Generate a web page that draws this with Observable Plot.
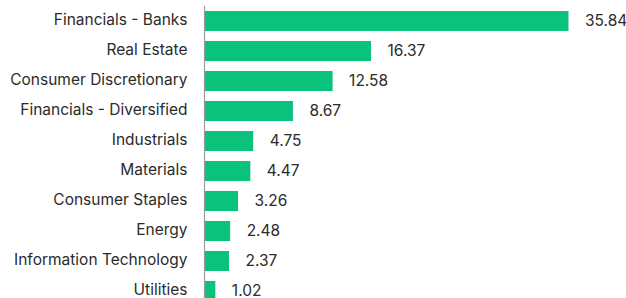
<!DOCTYPE html>
<html><head><meta charset="utf-8">
<script src="https://cdn.jsdelivr.net/npm/d3@7"></script>
<script src="https://cdn.jsdelivr.net/npm/@observablehq/plot@0.6"></script>
<style>
html,body{margin:0;padding:0;background:#fff;overflow:hidden;height:298px;}
</style>
</head><body><div id="chart"></div>
<script>
const categories = ["Financials - Banks","Real Estate","Consumer Discretionary","Financials - Diversified","Industrials","Materials","Consumer Staples","Energy","Information Technology","Utilities"];
const values = [35.84,16.37,12.58,8.67,4.75,4.47,3.26,2.48,2.37,1.02];
const labels = ["35.84","16.37","12.58","8.67","4.75","4.47","3.26","2.48","2.37","1.02"];

const data = categories.map((c,i)=>({cat:c, val:values[i], label:labels[i]}));

const chart = Plot.plot({
  width: 626,
  height: 306,
  marginLeft: 205,
  marginTop: 6,
  marginBottom: 0,
  marginRight: 0,
  style: {fontFamily: "Inter, 'Noto Sans', sans-serif", fontSize: "15.5px", color: "#2b2b2b", background: "#fff"},
  x: {domain: [0, 35.84], range: [205, 568.5], axis: null},
  y: {domain: categories, paddingInner: 0.333, paddingOuter: 0.1667, round: false, label: null},
  marks: [
    Plot.barX(data, {y: "cat", x: "val", fill: "#0ac27b"}),
    Plot.ruleX([0], {dx: -1, stroke: "#9a9a9a", strokeWidth: 1.2}),
    Plot.axisY({tickSize: 0, tickPadding: 18, fontSize: 15.5, label: null, fill: "#2b2b2b", dy: -1}),
    Plot.text(data, {y: "cat", x: "val", text: "label", dx: 16, textAnchor: "start", fontSize: 15.5, fill: "#2b2b2b"})
  ]
});
document.getElementById("chart").append(chart);
</script></body></html>
